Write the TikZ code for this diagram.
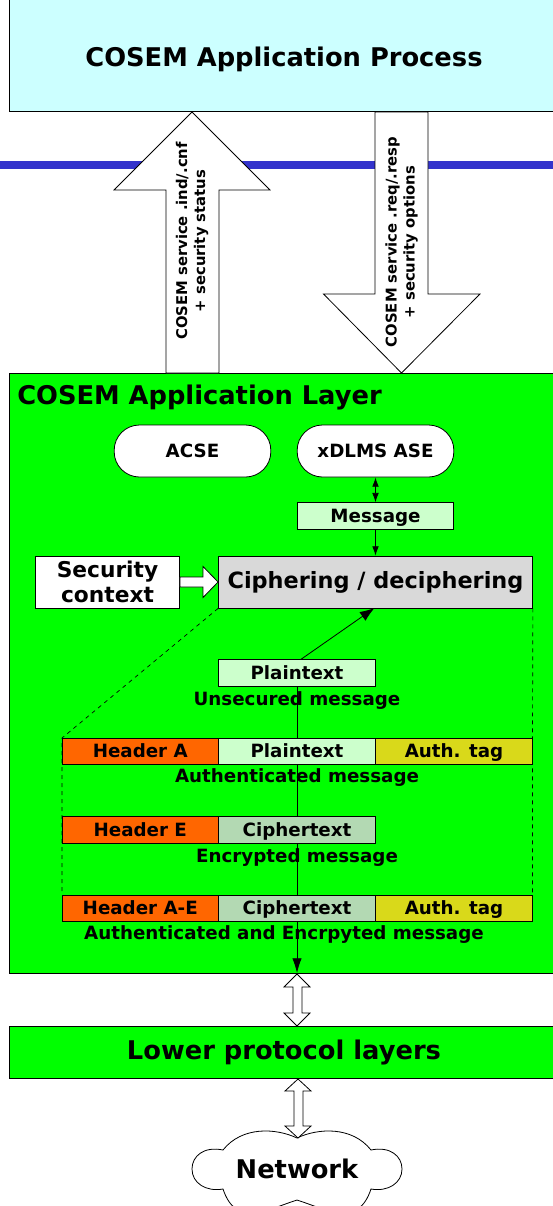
\documentclass[tikz,border=0pt]{standalone}
\usepackage{fontspec}
\setmainfont{DejaVu Sans}
\usetikzlibrary{arrows.meta}
\usetikzlibrary{calc}
\definecolor{skyfill}{HTML}{CCFFFF}
\definecolor{layerfill}{HTML}{00FF00}
\definecolor{lightfill}{HTML}{CCFFCC}
\definecolor{cipherfill}{HTML}{B3D9B3}
\definecolor{greyfill}{HTML}{D9D9D9}
\definecolor{headfill}{HTML}{FF6600}
\definecolor{tagfill}{HTML}{D9D91A}
\definecolor{busblue}{HTML}{3333CC}
\newcommand{\smallbold}{\bfseries\fontsize{13.7}{16}\selectfont}
\newcommand{\bigbold}{\bfseries\fontsize{19.3}{23}\selectfont}
\tikzset{
	box/.style = {draw, inner sep = 0pt, line width = 0.6pt, font = \smallbold, align = center},
	cell/.style = {draw, inner sep = 0pt, line width = 0.6pt, font = \smallbold, minimum height = 20pt, text height = 10.5pt, text depth = 1pt},
	caption/.style = {inner sep = 0pt, font = \smallbold},
	sidelabel/.style = {inner sep = 0pt, rotate = 90, align = center, font = \bfseries\fontsize{11.1}{13.5}\selectfont},
	hollow/.style = {draw, fill = white, line width = 0.6pt},
	flow/.style = {line width = 0.6pt, -{Latex[length = 7pt, width = 5pt]}}
}

\begin{document}
\begin{tikzpicture}[x = 0.75pt, y = -0.75pt]
	\useasboundingbox (0, 0) rectangle (553, 1206);
	\clip (0, 0) rectangle (553, 1206);

	\fill[busblue] (0, 161) rectangle (553, 169);

	% top and layer boxes run past the right edge
	\node[box, fill = skyfill, minimum width = 412.5pt, minimum height = 84pt] (process) at (284, 55) {};
	\node[font = \bigbold, inner sep = 0pt] (processtitle) at (284, 59.5) {COSEM Application Process};
	\node[box, fill = layerfill, minimum width = 412.5pt, minimum height = 450pt] (layer) at (284, 673) {};
	\node[box, fill = layerfill, minimum width = 412.5pt, minimum height = 39pt] (lower) at (284, 1052) {};
	\node[font = \bigbold, inner sep = 0pt] (lowertitle) at (284, 1052.5) {Lower protocol layers};
	\node[caption, anchor = west, font = \bigbold] (layertitle) at (17, 397) {COSEM Application Layer};

	\draw[hollow] (192, 112) -- (270, 190) -- (219, 190) -- (219, 373) -- (166, 373) -- (166, 190) -- (114, 190) -- cycle;
	\draw[hollow] (375, 112) -- (428, 112) -- (428, 294) -- (480, 294) -- (401.5, 373) -- (323.5, 294) -- (375, 294) -- cycle;
	\node[sidelabel] (indlabel) at (192, 241) {COSEM service .ind/.cnf\\+ security status};
	\node[sidelabel] (reqlabel) at (401.5, 242) {COSEM service .req/.resp\\+ security options};

	\node[box, fill = white, rounded corners = 19pt, minimum width = 117.5pt, minimum height = 39pt] (acse) at (192.5, 451) {ACSE};
	\node[box, fill = white, rounded corners = 19pt, minimum width = 117.5pt, minimum height = 39pt] (xdlms) at (375.5, 451) {xDLMS ASE};
	\node[cell, fill = lightfill, minimum width = 117.5pt] (message) at (375.5, 516) {Message};
	\node[box, fill = greyfill, minimum width = 235.5pt, minimum height = 39pt, font = \bfseries\fontsize{16.8}{20}\selectfont] (cipher) at (375.5, 582) {Ciphering / deciphering};
	\node[box, fill = white, minimum width = 108pt, minimum height = 39pt, font = \bfseries\fontsize{16.3}{18.5}\selectfont] (context) at (107.5, 582) {Security\\context};

	\draw[{Latex[length = 7pt, width = 5pt]}-{Latex[length = 7pt, width = 5pt]}, line width = 0.6pt] (xdlms) -- (message);
	\draw[flow] (message) -- (cipher);
	\draw[hollow] (context.east |- 0, 577) -- (203, 577) -- (203, 566.5) -- (cipher.west) -- (203, 597.5) -- (203, 587) -- (context.east |- 0, 587) -- cycle;

	\coordinate (plainout) at (300, 660);
	\coordinate (cipherin) at (374.5, 608);
	\coordinate (layerout) at (297, 973);

	% rows of the message formats
	\draw[dashed, line width = 0.5pt] (cipher.south west) -- (62, 738) -- (62, 895);
	\draw[dashed, line width = 0.5pt] (cipher.south east) -- (532.5, 738) -- (532.5, 895);
	\draw[line width = 0.6pt, -{Latex[length = 11pt, width = 7pt]}] (297, 686) -- (layerout);
	\draw[line width = 0.6pt, -{Latex[length = 11pt, width = 8pt]}] (plainout) -- (cipherin);

	\node[cell, fill = lightfill, minimum width = 117.5pt] (plain) at (297, 673) {Plaintext};
	\node[caption] (unsecured) at (297, 701) {Unsecured message};

	\node[cell, fill = headfill, minimum width = 117.5pt] (heada) at (140.25, 751.5) {Header A};
	\node[cell, fill = lightfill, minimum width = 117.5pt] (plaina) at (297, 751.5) {Plaintext};
	\node[cell, fill = tagfill, minimum width = 117.5pt] (taga) at (454, 751.5) {Auth. tag};
	\node[caption] (authmsg) at (297, 778) {Authenticated message};

	\node[cell, fill = headfill, minimum width = 117.5pt] (heade) at (140.25, 830) {Header E};
	\node[cell, fill = cipherfill, minimum width = 117.5pt] (ciphere) at (297, 830) {Ciphertext};
	\node[caption] (encmsg) at (297, 858) {Encrypted message};

	\node[cell, fill = headfill, minimum width = 117.5pt] (headae) at (140.25, 908.5) {Header A-E};
	\node[cell, fill = cipherfill, minimum width = 117.5pt] (cipherae) at (297, 908.5) {Ciphertext};
	\node[cell, fill = tagfill, minimum width = 117.5pt] (tagae) at (454, 908.5) {Auth. tag};
	\node[caption] (authencmsg) at (284, 935) {Authenticated and Encrpyted message};

	\draw[hollow] (297, 974) -- (310, 987) -- (302, 987) -- (302, 1013) -- (310, 1013) -- (297, 1026) -- (284, 1013) -- (293, 1013) -- (293, 987) -- (284, 987) -- cycle;

	% network cloud, cut by the page edge
	\draw[hollow] (297, 1138) .. controls (318, 1128) and (352, 1126) .. (371, 1150)
		.. controls (390, 1146) and (402, 1156) .. (402, 1169)
		.. controls (402, 1183) and (388, 1192) .. (371, 1189)
		.. controls (358, 1228) and (328, 1210) .. (297, 1200)
		.. controls (266, 1210) and (236, 1228) .. (223, 1189)
		.. controls (206, 1192) and (192, 1183) .. (192, 1169)
		.. controls (192, 1156) and (204, 1146) .. (223, 1150)
		.. controls (242, 1126) and (276, 1128) .. cycle;
	\node[caption, font = \bigbold] (network) at (297, 1169) {Network};

	\draw[hollow] (298, 1079) -- (311, 1091) -- (303, 1091) -- (303, 1126) -- (311, 1126) -- (298, 1138) -- (285, 1126) -- (294, 1126) -- (294, 1091) -- (285, 1091) -- cycle;
\end{tikzpicture}
\end{document}
